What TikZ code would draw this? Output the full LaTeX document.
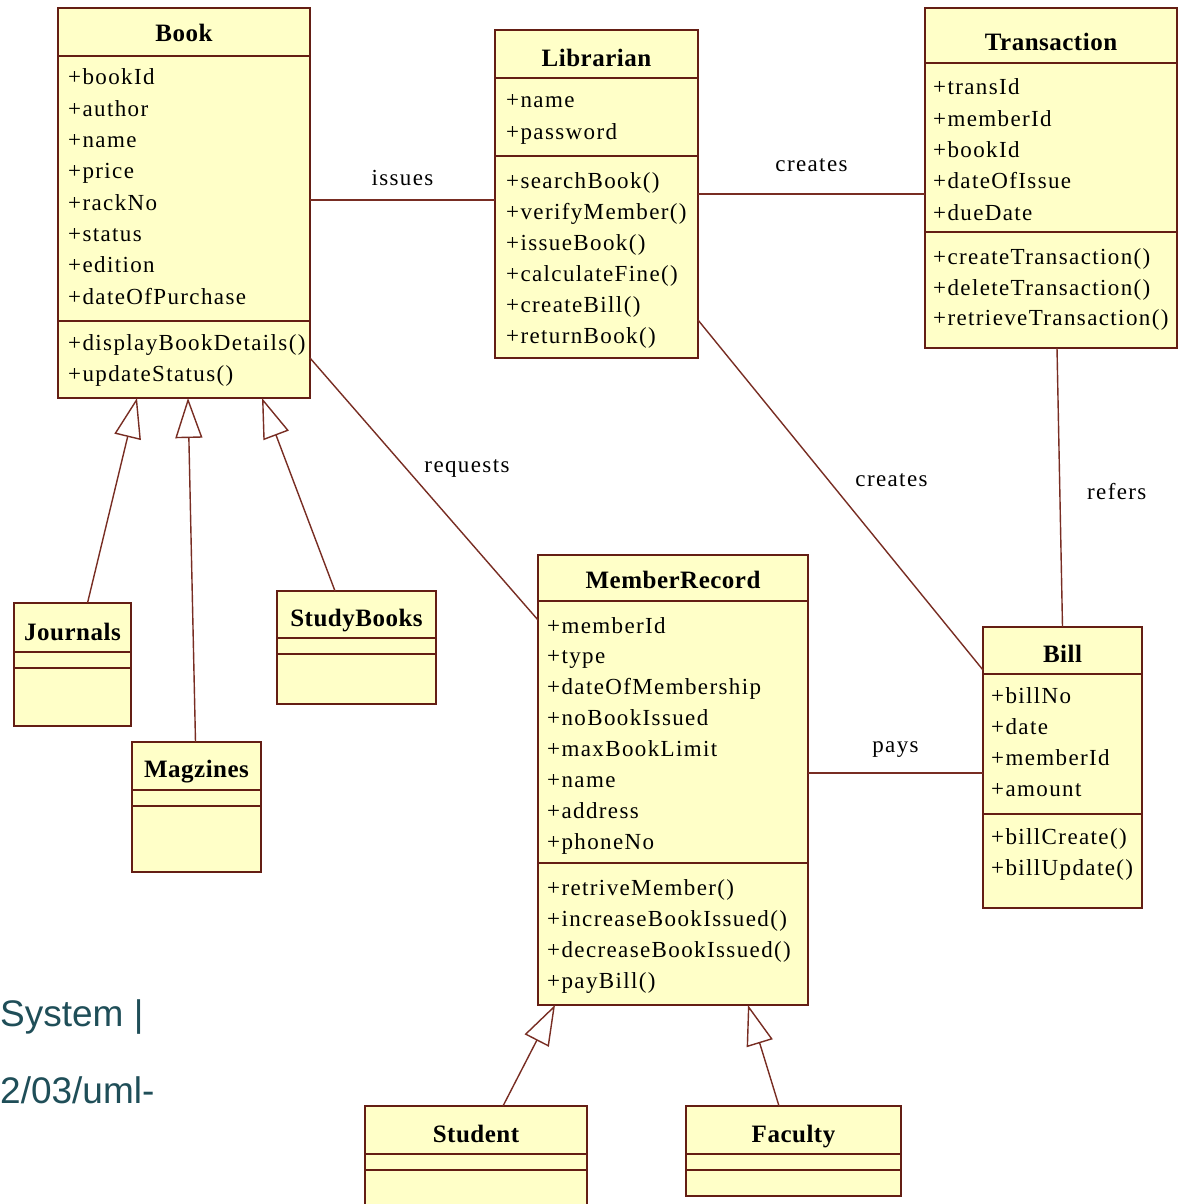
\documentclass[tikz,border=0pt]{standalone}
\usepackage{fontspec}
\usepackage{xcolor}
\usepackage{tikz}
\usetikzlibrary{arrows.meta, positioning}

\newfontfamily\umlfont{Liberation Serif}[LetterSpace=6]
\newfontfamily\umlhead{Liberation Serif}[LetterSpace=2]
\newfontfamily\notefont{Liberation Sans}

\definecolor{classfill}{RGB}{255,255,200}
\definecolor{classedge}{RGB}{100,30,20}
\definecolor{linkcol}{RGB}{120,45,35}
\definecolor{notecol}{RGB}{31,78,88}

\begin{document}
\begin{tikzpicture}[x=1pt, y=-1pt]
    % Styles
    \tikzstyle{classbox} = [rectangle, draw=classedge, fill=classfill, line width=2pt, anchor=north west, inner sep=0pt, outer sep=0pt]
    \tikzstyle{classname} = [anchor=base, inner sep=0pt, font=\umlhead\bfseries\fontsize{25}{30}\selectfont]
    \tikzstyle{member} = [anchor=base west, inner sep=0pt, font=\umlfont\fontsize{23}{31}\selectfont]
    \tikzstyle{divider} = [draw=classedge, line width=2pt]
    \tikzstyle{assoc} = [draw=linkcol, line width=1.4pt]
    \tikzstyle{inherit} = [draw=linkcol, line width=1.4pt, -{Triangle[open, length=40pt, width=27pt]}]
    \tikzstyle{linklabel} = [inner sep=0pt, font=\umlfont\fontsize{23}{31}\selectfont]
    \tikzstyle{note} = [anchor=base west, inner sep=0pt, text=notecol, font=\notefont\fontsize{37}{44}\selectfont]

    \fill [white] (0,0) rectangle (1180,1204);
    \useasboundingbox (0,0) rectangle (1180,1204);

    % Book
    \node [classbox, minimum width=252pt, minimum height=390pt] (book) at (58,8) {};
    \node [classname] (book-n) at (184,42) {Book};
    \draw [divider] (book.west |- 0,56) -- (book.east |- 0,56);
    \draw [divider] (book.west |- 0,321) -- (book.east |- 0,321);
    \foreach \m [count=\i] in {+bookId,+author,+name,+price,+rackNo,+status,+edition,+dateOfPurchase}
        \node [member] (book-a\i) at (68,{53.7+31.3*\i}) {\m};
    \foreach \m [count=\i] in {+displayBookDetails(),+updateStatus()}
        \node [member] (book-m\i) at (68,{318.7+31.3*\i}) {\m};

    % Librarian
    \node [classbox, minimum width=203pt, minimum height=328pt] (lib) at (495,30) {};
    \node [classname] (lib-n) at (596.5,67) {Librarian};
    \draw [divider] (lib.west |- 0,78) -- (lib.east |- 0,78);
    \draw [divider] (lib.west |- 0,156) -- (lib.east |- 0,156);
    \foreach \m [count=\i] in {+name,+password}
        \node [member] (lib-a\i) at (506,{76.7+31.3*\i}) {\m};
    \foreach \m [count=\i] in {+searchBook(),+verifyMember(),+issueBook(),+calculateFine(),+createBill(),+returnBook()}
        \node [member] (lib-m\i) at (506,{157+31*\i}) {\m};

    % Transaction
    \node [classbox, minimum width=252pt, minimum height=340pt] (trans) at (925,8) {};
    \node [classname] (trans-n) at (1051,51) {Transaction};
    \draw [divider] (trans.west |- 0,63) -- (trans.east |- 0,63);
    \draw [divider] (trans.west |- 0,232) -- (trans.east |- 0,232);
    \foreach \m [count=\i] in {+transId,+memberId,+bookId,+dateOfIssue,+dueDate}
        \node [member] (trans-a\i) at (933,{63.7+31.3*\i}) {\m};
    \foreach \m [count=\i] in {+createTransaction(),+deleteTransaction(),+retrieveTransaction()}
        \node [member] (trans-m\i) at (933,{233.7+30.7*\i}) {\m};

    % MemberRecord
    \node [classbox, minimum width=270pt, minimum height=450pt] (mem) at (538,555) {};
    \node [classname] (mem-n) at (673,588) {MemberRecord};
    \draw [divider] (mem.west |- 0,601) -- (mem.east |- 0,601);
    \draw [divider] (mem.west |- 0,863) -- (mem.east |- 0,863);
    \foreach \m [count=\i] in {+memberId,+type,+dateOfMembership,+noBookIssued,+maxBookLimit,+name,+address,+phoneNo}
        \node [member] (mem-a\i) at (547,{602.1+30.9*\i}) {\m};
    \foreach \m [count=\i] in {+retriveMember(),+increaseBookIssued(),+decreaseBookIssued(),+payBill()}
        \node [member] (mem-m\i) at (547,{864+31*\i}) {\m};

    % Bill
    \node [classbox, minimum width=159pt, minimum height=281pt] (bill) at (983,627) {};
    \node [classname] (bill-n) at (1062.5,662) {Bill};
    \draw [divider] (bill.west |- 0,674) -- (bill.east |- 0,674);
    \draw [divider] (bill.west |- 0,814) -- (bill.east |- 0,814);
    \foreach \m [count=\i] in {+billNo,+date,+memberId,+amount}
        \node [member] (bill-a\i) at (991,{671.7+31.3*\i}) {\m};
    \foreach \m [count=\i] in {+billCreate(),+billUpdate()}
        \node [member] (bill-m\i) at (991,{812.7+31.3*\i}) {\m};

    % Subclasses of Book
    \node [classbox, minimum width=117pt, minimum height=123pt] (jour) at (14,603) {};
    \node [classname] (jour-n) at (72.5,640) {Journals};
    \draw [divider] (jour.west |- 0,652) -- (jour.east |- 0,652);
    \draw [divider] (jour.west |- 0,668) -- (jour.east |- 0,668);

    \node [classbox, minimum width=129pt, minimum height=130pt] (mag) at (132,742) {};
    \node [classname] (mag-n) at (196.5,777) {Magzines};
    \draw [divider] (mag.west |- 0,790) -- (mag.east |- 0,790);
    \draw [divider] (mag.west |- 0,806) -- (mag.east |- 0,806);

    \node [classbox, minimum width=159pt, minimum height=113pt] (study) at (277,591) {};
    \node [classname] (study-n) at (356.5,626) {StudyBooks};
    \draw [divider] (study.west |- 0,638) -- (study.east |- 0,638);
    \draw [divider] (study.west |- 0,654) -- (study.east |- 0,654);

    % Subclasses of MemberRecord
    \node [classbox, minimum width=222pt, minimum height=104pt] (stud) at (365,1106) {};
    \node [classname] (stud-n) at (476,1142) {Student};
    \draw [divider] (stud.west |- 0,1154) -- (stud.east |- 0,1154);
    \draw [divider] (stud.west |- 0,1170) -- (stud.east |- 0,1170);

    \node [classbox, minimum width=215pt, minimum height=90pt] (fac) at (686,1106) {};
    \node [classname] (fac-n) at (793.5,1142) {Faculty};
    \draw [divider] (fac.west |- 0,1154) -- (fac.east |- 0,1154);
    \draw [divider] (fac.west |- 0,1170) -- (fac.east |- 0,1170);

    % Associations
    \draw [assoc] ([yshift=3pt]book.east) -- ([yshift=3pt]book.east -| lib.west)
        node [linklabel, midway, yshift=22pt] (issues) {issues};
    \draw [assoc] (lib.east) -- (lib.east -| trans.west)
        node [linklabel, midway, yshift=29pt] (creates1) {creates};
    \draw [assoc] ([yshift=40pt]book.south east) -- ([yshift=-65pt]mem.north west)
        node [linklabel, midway, xshift=43pt, yshift=21pt] (requests) {requests};
    \draw [assoc] ([yshift=38pt]lib.south east) -- ([yshift=-43pt]bill.north west)
        node [linklabel, midway, xshift=51pt, yshift=15pt] (creates2) {creates};
    \draw [assoc] ([xshift=6pt]trans.south) -- (bill.north)
        node [linklabel, midway, xshift=57pt, yshift=-4pt] (refers) {refers};
    \draw [assoc] ([yshift=7pt]mem.east) -- ([yshift=7pt]mem.east -| bill.west)
        node [linklabel, midway, yshift=23pt] (pays) {pays};

    % Generalizations
    \draw [inherit] ([xshift=15pt]jour.north) -- ([xshift=-47pt]book.south);
    \draw [inherit] ([xshift=-1pt]mag.north) -- ([xshift=4pt]book.south);
    \draw [inherit] ([xshift=-21.5pt]study.north) -- ([xshift=78pt]book.south);
    \draw [inherit] ([xshift=27pt]stud.north) -- ([xshift=-118pt]mem.south);
    \draw [inherit] ([xshift=-14.5pt]fac.north) -- ([xshift=75pt]mem.south);

    % Cut-off caption text
    \node [note] (note1) at (0,1026) {System |};
    \node [note] (note2) at (0,1103) {2/03/uml-};
\end{tikzpicture}
\end{document}
